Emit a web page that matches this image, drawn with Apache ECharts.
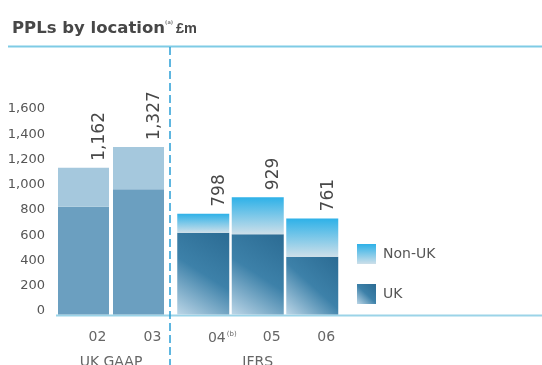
<!DOCTYPE html>
<html>
<head>
<meta charset="utf-8">
<script src="https://cdn.jsdelivr.net/npm/echarts@6/dist/echarts.min.js"></script>
<style>
  html, body { margin: 0; padding: 0; background: #ffffff; }
  #chart { width: 542px; height: 365px; }
</style>
</head>
<body>
<div id="chart"></div>
<script>
// PPLs by location, £m — UK GAAP years and IFRS years
const gaapYears = ['02', '03'];
const ifrsYears = ['04', '05', '06'];
const gaapUK = [853, 991];
const gaapNonUK = [309, 336];
const ifrsUK = [648, 635, 458];
const ifrsNonUK = [150, 294, 303];
const yMin = 0, yMax = 1600, yStep = 200;
const groupNames = ['UK GAAP', 'IFRS'];
const seriesNames = ['Non-UK', 'UK'];

const FONT = 'DejaVu Sans';
const fmt = v => v.toLocaleString('en-US');

const gaapFlat = { nonUK: '#a5c8dd', uk: '#6b9fc0' };
const ifrsNonUKFill = new echarts.graphic.LinearGradient(0, 0, 0, 1, [
  { offset: 0, color: '#2db1e8' },
  { offset: 1, color: '#cddfe9' }
]);
const ifrsUKFill = new echarts.graphic.LinearGradient(1, 0, 0, 1, [
  { offset: 0, color: '#2b6b93' },
  { offset: 0.5, color: '#3d81a9' },
  { offset: 1, color: '#bcd6e7' }
]);

const totalLabel = (uk, non) => ({
  show: true,
  position: 'top',
  rotate: 90,
  align: 'left',
  verticalAlign: 'middle',
  distance: 7,
  offset: [0, 16],
  fontFamily: FONT,
  fontSize: 17,
  color: '#484848',
  formatter: p => fmt(uk[p.dataIndex] + non[p.dataIndex])
});

const catAxis = (grid, data, name) => ({
  type: 'category',
  gridIndex: grid,
  data: data,
  axisLine: { show: false },
  axisTick: { show: false },
  axisLabel: {
    interval: 0,
    hideOverlap: false,
    margin: 16,
    fontFamily: FONT,
    fontSize: 14,
    color: '#666',
    padding: [0, 0, 0, 28],
    formatter: v => v === '04' ? '{p|}04{s|(b)}' : v,
    rich: {
      p: { width: 10 },
      s: { fontSize: 7, color: '#666', verticalAlign: 'top', padding: [0, 0, 8, 1] }
    }
  },
  name: name,
  nameLocation: 'middle',
  nameGap: 41,
  nameTextStyle: { fontFamily: FONT, fontSize: 14, color: '#666' }
});

const valAxis = (grid, showLabels) => ({
  type: 'value',
  gridIndex: grid,
  min: yMin,
  max: yMax,
  interval: yStep,
  axisLine: { show: false },
  axisTick: { show: false },
  splitLine: { show: false },
  axisLabel: {
    show: showLabels,
    margin: 11,
    fontFamily: FONT,
    fontSize: 13,
    color: '#555',
    verticalAlign: 'bottom',
    lineHeight: 7,
    formatter: v => fmt(v)
  }
});

const chart = echarts.init(document.getElementById('chart'), null, { renderer: 'canvas' });

chart.setOption({
  animation: false,
  backgroundColor: '#ffffff',
  title: {
    left: 12,
    top: 20,
    padding: 0,
    text: '{b|PPLs by location}{s|(a)}{m|£m}',
    textStyle: {
      rich: {
        b: { fontFamily: FONT, fontSize: 16.5, fontWeight: 'bold', color: '#474747' },
        m: { fontFamily: 'Liberation Sans', fontSize: 14.5, fontWeight: 'bold', color: '#474747', padding: [0, 0, 0, 3] },
        s: { fontFamily: FONT, fontSize: 5, color: '#777', verticalAlign: 'top' }
      }
    }
  },
  legend: {
    orient: 'vertical',
    left: 357,
    top: 244,
    padding: 0,
    itemWidth: 19,
    itemHeight: 20,
    itemGap: 20,
    icon: 'rect',
    textStyle: { fontFamily: FONT, fontSize: 14, color: '#555', padding: [0, 0, 0, 2] },
    data: [
      { name: seriesNames[0], itemStyle: { color: ifrsNonUKFill } },
      { name: seriesNames[1], itemStyle: { color: ifrsUKFill } }
    ]
  },
  grid: [
    { left: 56, width: 110, top: 112.4, bottom: 50.5, containLabel: false, outerBoundsMode: 'none' },
    { left: 176, width: 163.5, top: 112.4, bottom: 50.5, containLabel: false, outerBoundsMode: 'none' }
  ],
  xAxis: [
    catAxis(0, gaapYears, groupNames[0]),
    catAxis(1, ifrsYears, groupNames[1])
  ],
  yAxis: [
    valAxis(0, true),
    valAxis(1, false)
  ],
  series: [
    {
      name: seriesNames[1], type: 'bar', stack: 'gaap', xAxisIndex: 0, yAxisIndex: 0,
      barWidth: 51, data: gaapUK, itemStyle: { color: gaapFlat.uk }
    },
    {
      name: seriesNames[0], type: 'bar', stack: 'gaap', xAxisIndex: 0, yAxisIndex: 0,
      barWidth: 51, data: gaapNonUK, itemStyle: { color: gaapFlat.nonUK },
      label: totalLabel(gaapUK, gaapNonUK)
    },
    {
      name: seriesNames[1], type: 'bar', stack: 'ifrs', xAxisIndex: 1, yAxisIndex: 1,
      barWidth: 52, data: ifrsUK, itemStyle: { color: ifrsUKFill }
    },
    {
      name: seriesNames[0], type: 'bar', stack: 'ifrs', xAxisIndex: 1, yAxisIndex: 1,
      barWidth: 52, data: ifrsNonUK, itemStyle: { color: ifrsNonUKFill },
      label: totalLabel(ifrsUK, ifrsNonUK)
    }
  ],
  graphic: [
    // rule under the heading
    { type: 'line', z: 0, shape: { x1: 8, y1: 46.5, x2: 542, y2: 46.5 },
      style: { stroke: '#7fcbe5', lineWidth: 2 } },
    // baseline rule
    { type: 'line', z: 0, shape: { x1: 56, y1: 315.5, x2: 542, y2: 315.5 },
      style: { stroke: '#9bd4e8', lineWidth: 2 } },
    // divider between UK GAAP and IFRS years
    { type: 'line', z: 10, shape: { x1: 170, y1: 47, x2: 170, y2: 365 },
      style: { stroke: '#2a9fd6', lineWidth: 1.5, lineDash: [8, 4] } }
  ]
});
</script>
</body>
</html>
